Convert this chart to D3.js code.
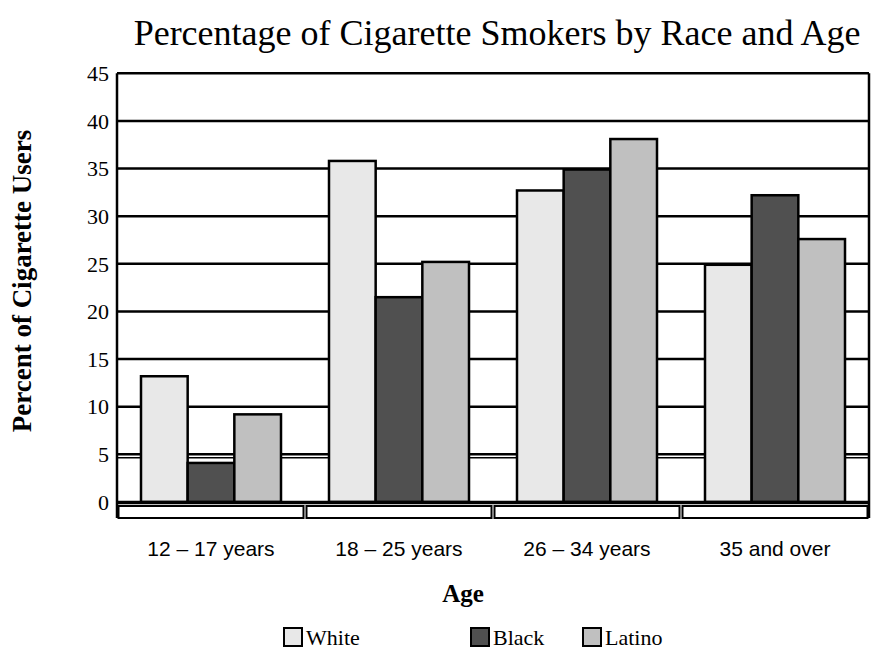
<!DOCTYPE html>
<html>
<head>
<meta charset="utf-8">
<script src="https://cdn.jsdelivr.net/npm/d3@7"></script>
<style>
  html, body { margin: 0; padding: 0; background: #fff; }
  svg { display: block; }
</style>
</head>
<body>
<svg id="chart" width="879" height="656"></svg>
<script>
// Age groups along the x axis
const ageGroups = ["12 – 17 years", "18 – 25 years", "26 – 34 years", "35 and over"];
// Race series shown within each age group
const races = ["White", "Black", "Latino"];
// Percent of cigarette users, one value per age group
const whiteValues = [13.2, 35.8, 32.7, 24.9];
const blackValues = [4.1, 21.5, 34.9, 32.2];
const latinoValues = [9.2, 25.2, 38.1, 27.6];
// Y axis ticks
const yTicks = [0, 5, 10, 15, 20, 25, 30, 35, 40, 45];

const seriesValues = { White: whiteValues, Black: blackValues, Latino: latinoValues };
const fills = { White: "#e8e8e8", Black: "#505050", Latino: "#c0c0c0" };

const svg = d3.select("#chart");
const serif = "'Liberation Serif', 'Times New Roman', serif";
const sans = "'Liberation Sans', Arial, sans-serif";

const plotLeft = 117, plotRight = 869, plotTop = 73.3, plotBottom = 502;

const y = d3.scaleLinear().domain([0, 45]).range([plotBottom, plotTop]);
const x0 = d3.scaleBand().domain(ageGroups).range([plotLeft, plotRight]).padding(0);
const groupPad = 24;
const x1 = d3.scaleBand().domain(races)
  .range([groupPad, x0.bandwidth() - groupPad]).padding(0);

// Title
svg.append("text")
  .attr("x", 497).attr("y", 45)
  .attr("text-anchor", "middle")
  .attr("font-family", serif).attr("font-size", 36)
  .text("Percentage of Cigarette Smokers by Race and Age");

// Horizontal grid lines (drawn under the bars)
const grid = svg.append("g");
grid.selectAll("line.grid").data(yTicks.filter(d => d > 0)).join("line")
  .attr("class", "grid")
  .attr("x1", plotLeft).attr("x2", plotRight)
  .attr("y1", d => y(d)).attr("y2", d => y(d))
  .attr("stroke", "#000").attr("stroke-width", 2.5);
// doubled rule just under the 5 line
grid.append("line")
  .attr("x1", plotLeft).attr("x2", plotRight)
  .attr("y1", y(5) + 3.5).attr("y2", y(5) + 3.5)
  .attr("stroke", "#000").attr("stroke-width", 1.5);

// Bars
const groups = svg.append("g").selectAll("g").data(ageGroups).join("g")
  .attr("transform", d => `translate(${x0(d)},0)`);
groups.selectAll("rect")
  .data((d, i) => races.map(r => ({ race: r, value: seriesValues[r][i] })))
  .join("rect")
  .attr("x", d => x1(d.race))
  .attr("y", d => y(d.value))
  .attr("width", x1.bandwidth())
  .attr("height", d => y(0) - y(d.value))
  .attr("fill", d => fills[d.race])
  .attr("stroke", "#000").attr("stroke-width", 2.5);

// Frame: left axis, right edge, zero line
svg.append("line").attr("x1", plotLeft).attr("x2", plotLeft).attr("y1", plotTop).attr("y2", 518)
  .attr("stroke", "#000").attr("stroke-width", 2.5);
svg.append("line").attr("x1", plotRight).attr("x2", plotRight).attr("y1", plotTop).attr("y2", 518)
  .attr("stroke", "#000").attr("stroke-width", 2.5);
svg.append("line").attr("x1", plotLeft).attr("x2", plotRight).attr("y1", y(0) + 0.5).attr("y2", y(0) + 0.5)
  .attr("stroke", "#000").attr("stroke-width", 3.5);

// Category strip under the plot
svg.append("g").selectAll("rect").data(ageGroups).join("rect")
  .attr("x", d => x0(d) + 1.5)
  .attr("y", 506)
  .attr("width", x0.bandwidth() - 3)
  .attr("height", 12)
  .attr("fill", "#fff")
  .attr("stroke", "#000").attr("stroke-width", 2);

// Y tick labels
svg.append("g").selectAll("text").data(yTicks).join("text")
  .attr("x", 109).attr("y", d => y(d))
  .attr("dy", "0.35em")
  .attr("text-anchor", "end")
  .attr("font-family", serif).attr("font-size", 22)
  .text(d => d);

// Category labels
svg.append("g").selectAll("text").data(ageGroups).join("text")
  .attr("x", d => x0(d) + x0.bandwidth() / 2)
  .attr("y", 556)
  .attr("text-anchor", "middle")
  .attr("font-family", sans).attr("font-size", 21)
  .text(d => d);

// Axis titles
svg.append("text")
  .attr("x", 463).attr("y", 602)
  .attr("text-anchor", "middle")
  .attr("font-family", serif).attr("font-size", 25).attr("font-weight", "bold")
  .text("Age");
svg.append("text")
  .attr("transform", "translate(31,281) rotate(-90)")
  .attr("text-anchor", "middle")
  .attr("font-family", serif).attr("font-size", 27).attr("font-weight", "bold")
  .text("Percent of Cigarette Users");

// Legend
const legendX = [284, 471, 583];
const legend = svg.append("g").selectAll("g").data(races).join("g")
  .attr("transform", (d, i) => `translate(${legendX[i]},628)`);
legend.append("rect")
  .attr("width", 18).attr("height", 18)
  .attr("fill", d => fills[d])
  .attr("stroke", "#000").attr("stroke-width", 2);
legend.append("text")
  .attr("x", 22).attr("y", 17)
  .attr("font-family", serif).attr("font-size", 22)
  .text(d => d);
</script>
</body>
</html>
